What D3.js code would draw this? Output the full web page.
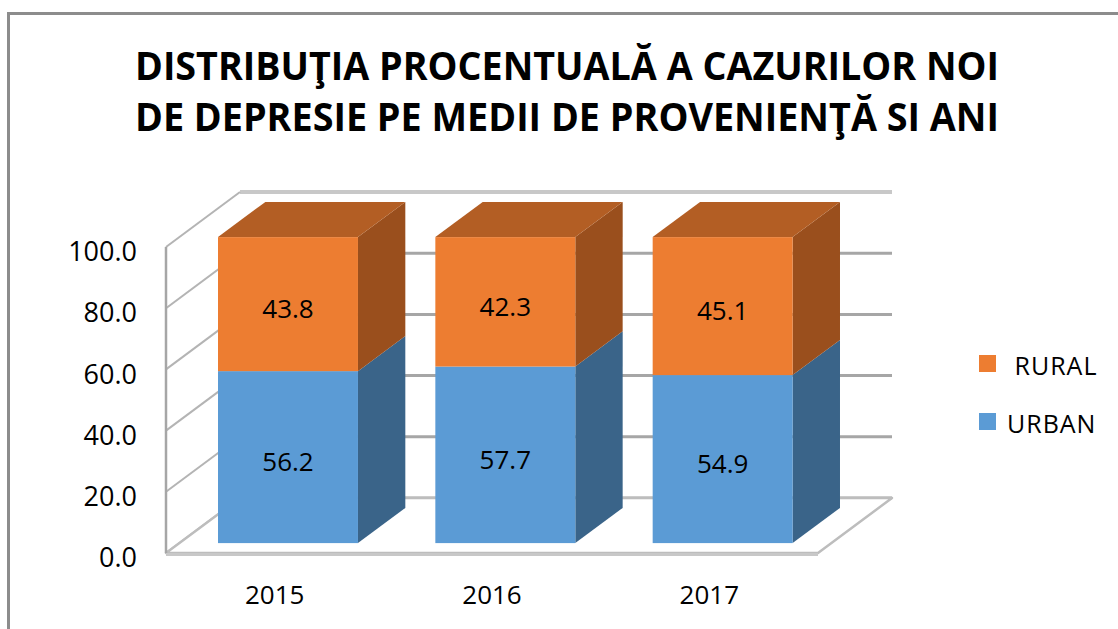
<!DOCTYPE html>
<html>
<head>
<meta charset="utf-8">
<script src="https://cdn.jsdelivr.net/npm/d3@7"></script>
<style>
  body { margin: 0; background: #fff; }
  svg { display: block; }
  text { font-family: "Open Sans", "Noto Sans", sans-serif; fill: #000; }
</style>
</head>
<body>
<div id="chart"></div>
<script>
const titleLines = ["DISTRIBUŢIA PROCENTUALĂ A CAZURILOR NOI", "DE DEPRESIE PE MEDII DE PROVENIENŢĂ SI ANI"];
const years = ["2015", "2016", "2017"];
const urban = [56.2, 57.7, 54.9];
const rural = [43.8, 42.3, 45.1];
const seriesNames = ["URBAN", " RURAL"];
const yTicks = [0, 20, 40, 60, 80, 100];

const W = 1118, H = 629;
const depth = { x: 74, y: -55 };   // front plane -> back wall
const barFront = 0.18, barBack = 0.82;

const colors = {
    URBAN: { front: "#5B9BD5", top: "#44749F", side: "#3A6489" },
    RURAL: { front: "#ED7D31", top: "#B35E24", side: "#9A4F1D" }
};

const svg = d3.select("#chart").append("svg")
    .attr("width", W)
    .attr("height", H);

svg.append("rect").attr("width", W).attr("height", H).attr("fill", "#fff");

// outer frame (only top and left edges visible)
svg.append("rect")
    .attr("x", 8.5).attr("y", 13.5)
    .attr("width", W + 20).attr("height", H + 20)
    .attr("fill", "none")
    .attr("stroke", "#8C8C8C")
    .attr("stroke-width", 3);

// Title
svg.append("g").selectAll("text")
    .data(titleLines)
    .enter().append("text")
    .attr("x", 567)
    .attr("y", (d, i) => 80 + i * 51)
    .attr("text-anchor", "middle")
    .attr("textLength", 864)
    .attr("lengthAdjust", "spacingAndGlyphs")
    .style("font-size", "40px")
    .style("font-weight", "700")
    .text(d => d);

// Scales (front plane)
const x = d3.scaleBand()
    .domain(years)
    .range([166, 818])
    .paddingInner(0.356)
    .paddingOuter(0.178);

const y = d3.scaleLinear()
    .domain([0, 100])
    .range([553, 247]);

const plot = svg.append("g");

// Back wall gridlines
plot.selectAll(".grid-back")
    .data(yTicks)
    .enter().append("line")
    .attr("x1", x.range()[0] + depth.x)
    .attr("x2", x.range()[1] + depth.x)
    .attr("y1", d => y(d) + depth.y)
    .attr("y2", d => y(d) + depth.y)
    .attr("stroke", d => d === 100 ? "#C8C8C8" : "#A6A6A6")
    .attr("stroke-width", d => d === 100 ? 4 : 3);

// Left wall lines
plot.selectAll(".grid-side")
    .data(yTicks)
    .enter().append("line")
    .attr("x1", x.range()[0])
    .attr("x2", x.range()[0] + depth.x)
    .attr("y1", d => y(d))
    .attr("y2", d => y(d) + depth.y)
    .attr("stroke", "#B4B4B4")
    .attr("stroke-width", 2);

// Floor
const x0 = x.range()[0], x1 = x.range()[1], yb = y(0);
plot.append("polygon")
    .attr("points", [[x0, yb], [x0 + depth.x, yb + depth.y], [x1 + depth.x, yb + depth.y], [x1, yb]].join(" "))
    .attr("fill", "#fff")
    .attr("stroke", "#BDBDBD")
    .attr("stroke-width", 2.5)
    .attr("stroke-linejoin", "round");

plot.append("line")
    .attr("x1", x0).attr("x2", x1)
    .attr("y1", yb + 1.5).attr("y2", yb + 1.5)
    .attr("stroke", "#C8C8C8")
    .attr("stroke-width", 3);

// Left axis edge
plot.append("line")
    .attr("x1", x0).attr("x2", x0)
    .attr("y1", y(100)).attr("y2", y(0))
    .attr("stroke", "#A6A6A6")
    .attr("stroke-width", 2.5);

// Stacked data
const rows = years.map((yr, i) => ({ year: yr, URBAN: urban[i], RURAL: rural[i] }));
const stacked = d3.stack().keys(["URBAN", "RURAL"])(rows);

const fx = barFront * depth.x, fy = barFront * depth.y;
const bx = (barBack - barFront) * depth.x, by = (barBack - barFront) * depth.y;

const bars = plot.selectAll(".year")
    .data(years)
    .enter().append("g")
    .attr("class", "year");

bars.each(function (yr, i) {
    const g = d3.select(this);
    const left = x(yr) + fx;
    const right = left + x.bandwidth();
    stacked.forEach((s, si) => {
        const c = colors[s.key];
        const top = y(s[i][1]) + fy;
        const bottom = y(s[i][0]) + fy;
        // side face
        g.append("polygon")
            .attr("points", [[right, bottom], [right + bx, bottom + by], [right + bx, top + by], [right, top]].join(" "))
            .attr("fill", c.side);
        // top face (only visible for the top segment)
        if (si === stacked.length - 1) {
            g.append("polygon")
                .attr("points", [[left, top], [left + bx, top + by], [right + bx, top + by], [right, top]].join(" "))
                .attr("fill", c.top);
        }
        // front face
        g.append("rect")
            .attr("x", left)
            .attr("y", top)
            .attr("width", x.bandwidth())
            .attr("height", bottom - top)
            .attr("fill", c.front);
        // value label
        g.append("text")
            .attr("x", (left + right) / 2)
            .attr("y", (top + bottom) / 2 + 4)
            .attr("text-anchor", "middle")
            .attr("dominant-baseline", "central")
            .style("font-size", "26px")
            .text(d3.format(".1f")(s[i].data[s.key]));
    });
});

// Y axis labels
const yAxis = svg.append("g")
    .attr("transform", `translate(${x0},0)`)
    .call(d3.axisLeft(y).tickValues(yTicks).tickFormat(d3.format(".1f")).tickSize(0).tickPadding(29));
yAxis.select(".domain").remove();
yAxis.selectAll("text")
    .attr("transform", "translate(0,5)")
    .style("font-size", "27px")
    .style("font-family", "'Open Sans', sans-serif")
    .attr("fill", "#000");

// X axis labels
const xAxis = svg.append("g")
    .attr("transform", `translate(0,${y(0)})`)
    .call(d3.axisBottom(x).tickSize(0).tickPadding(33));
xAxis.select(".domain").remove();
xAxis.selectAll("text")
    .style("font-size", "26px")
    .style("font-family", "'Open Sans', sans-serif")
    .attr("fill", "#000");

// Legend (RURAL above URBAN)
const legendItems = [
    { name: seriesNames[1], color: colors.RURAL.front },
    { name: seriesNames[0], color: colors.URBAN.front }
];
const legend = svg.append("g").attr("transform", "translate(979,355)");
const li = legend.selectAll("g")
    .data(legendItems)
    .enter().append("g")
    .attr("transform", (d, i) => `translate(0,${i * 58})`);
li.append("rect")
    .attr("width", 17).attr("height", 17)
    .attr("fill", d => d.color);
li.append("text")
    .attr("x", 28)
    .attr("y", 20)
    .attr("xml:space", "preserve")
    .style("white-space", "pre")
    .style("font-size", "25px")
    .style("letter-spacing", "1px")
    .text(d => d.name);
</script>
</body>
</html>
